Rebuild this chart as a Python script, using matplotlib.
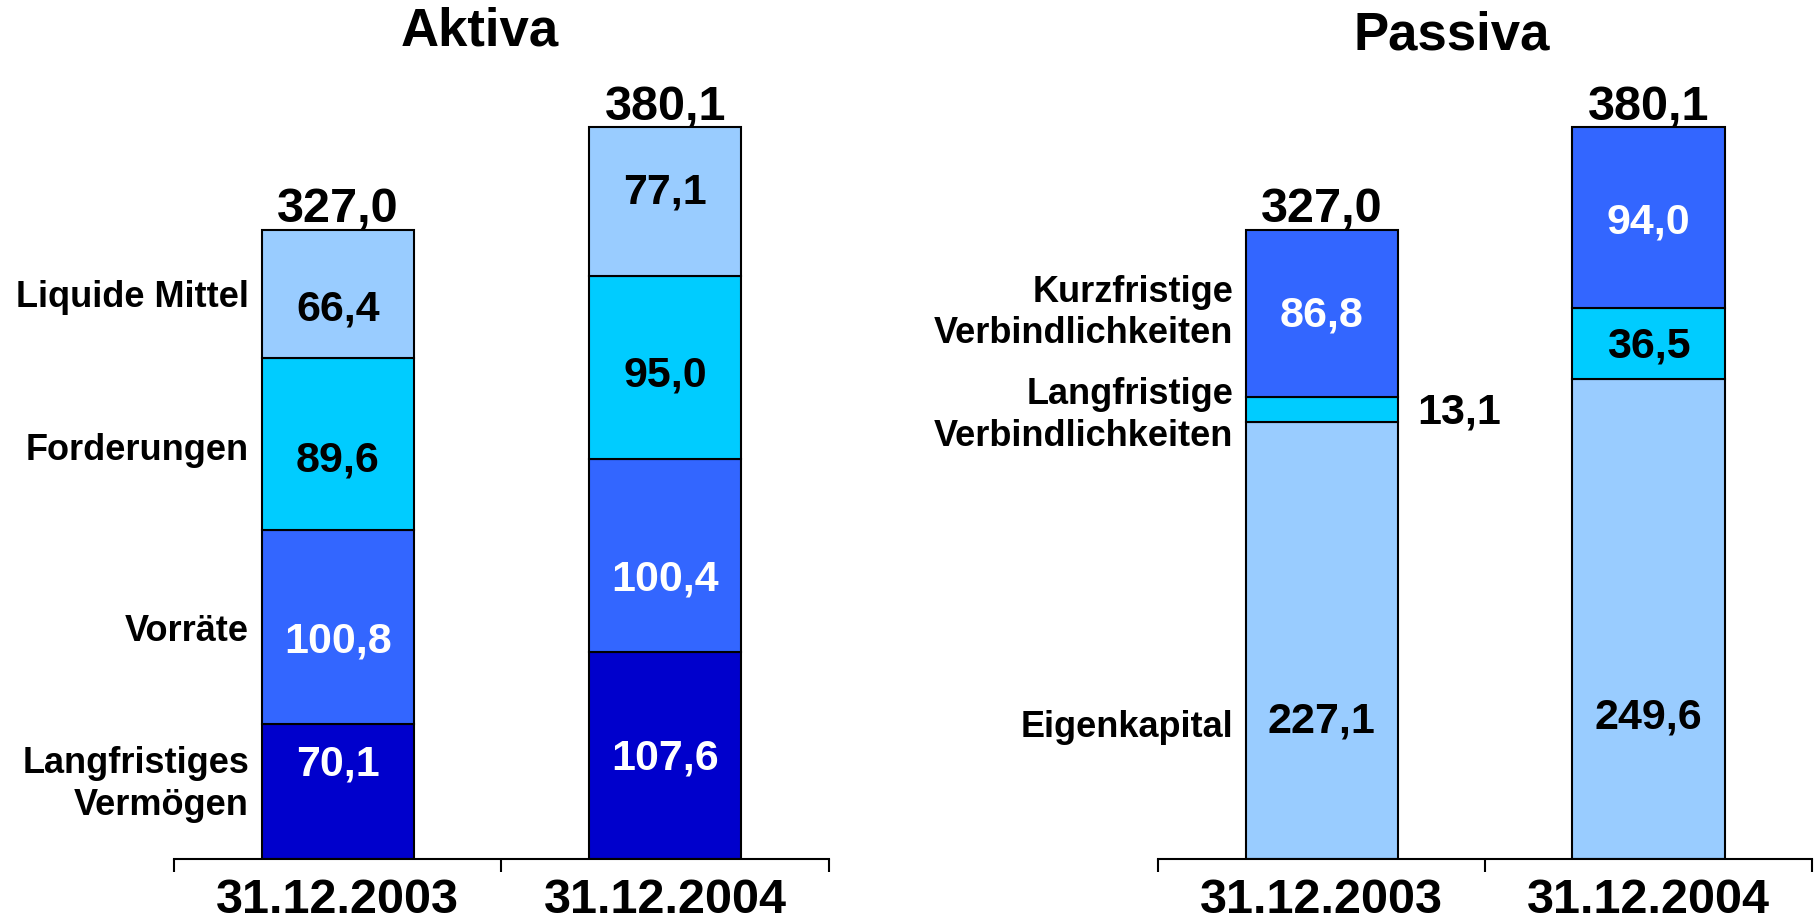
import matplotlib
matplotlib.use("Agg")
import matplotlib.pyplot as plt

# data
dates = ["31.12.2003", "31.12.2004"]

aktiva_labels = ["Langfristiges\nVermögen", "Vorräte", "Forderungen", "Liquide Mittel"]
aktiva_2003 = [70.1, 100.8, 89.6, 66.4]
aktiva_2004 = [107.6, 100.4, 95.0, 77.1]
aktiva_totals = ["327,0", "380,1"]

passiva_labels = ["Eigenkapital", "Langfristige\nVerbindlichkeiten", "Kurzfristige\nVerbindlichkeiten"]
passiva_2003 = [227.1, 13.1, 86.8]
passiva_2004 = [249.6, 36.5, 94.0]
passiva_totals = ["327,0", "380,1"]

aktiva_colors = ["#0000CC", "#3366FF", "#00CCFF", "#99CCFF"]
aktiva_text = ["white", "white", "black", "black"]
passiva_colors = ["#99CCFF", "#00CCFF", "#3366FF"]
passiva_text = ["black", "black", "white"]

plt.rcParams['font.family'] = ['Liberation Sans', 'DejaVu Sans']
plt.rcParams['font.weight'] = 'bold'


def fmt(v):
    return f"{v:.1f}".replace(".", ",")


def draw_stack(ax, series, colors, txt_colors, labels, totals, value_pos, label_pos, outside=()):
    width = 0.465
    for i, vals in enumerate(series):
        bottom = 0
        for j, v in enumerate(vals):
            ax.bar(i, v, width, bottom=bottom, color=colors[j], edgecolor="black", linewidth=1.5, zorder=2)
            y = bottom + v * value_pos[i][j]
            if (i, j) in outside:
                ax.annotate(fmt(v), (i + width / 2, y), xytext=(14, -2), textcoords="offset points",
                            ha="left", va="center", fontsize=31, color="black")
            else:
                ax.annotate(fmt(v), (i, y), xytext=(0, -2), textcoords="offset points",
                            ha="center", va="center", fontsize=31, color=txt_colors[j])
            if i == 0:
                ax.annotate(labels[j], (i - width / 2, bottom + v * label_pos[j]), xytext=(-9, 0),
                            textcoords="offset points", ha="right", va="center",
                            fontsize=26, linespacing=1.25)
            bottom += v
        ax.annotate(totals[i], (i, bottom), xytext=(0, 5), textcoords="offset points",
                    ha="center", va="baseline", fontsize=35)

    ax.set_xlim(-0.5, 1.5)
    ax.set_ylim(0, 400)
    for s in ["left", "right", "top"]:
        ax.spines[s].set_visible(False)
    ax.spines["bottom"].set_linewidth(1.5)
    ax.set_yticks([])
    ax.set_xticks([0, 1])
    ax.set_xticklabels(dates, fontsize=35)
    ax.tick_params(axis="x", which="major", length=0, pad=14)
    ax.set_xticks([-0.5, 0.5, 1.5], minor=True)
    ax.tick_params(axis="x", which="minor", length=9, width=1.5, direction="out")


fig = plt.figure(figsize=(18.18, 9.21), dpi=100)
ax1 = fig.add_axes([0.0957, 0.0673, 0.3603, 0.836])
ax2 = fig.add_axes([0.637, 0.0673, 0.3597, 0.836])

aktiva_vpos = [[0.72, 0.44, 0.42, 0.40], [0.5, 0.39, 0.47, 0.58]]
aktiva_lpos = [0.55, 0.475, 0.46, 0.47]
passiva_vpos = [[0.32, 0.5, 0.5], [0.30, 0.49, 0.49]]
passiva_lpos = [0.30, 0.24, 0.5]

draw_stack(ax1, [aktiva_2003, aktiva_2004], aktiva_colors, aktiva_text, aktiva_labels, aktiva_totals,
           aktiva_vpos, aktiva_lpos)
draw_stack(ax2, [passiva_2003, passiva_2004], passiva_colors, passiva_text, passiva_labels, passiva_totals,
           passiva_vpos, passiva_lpos, outside=[(0, 1)])

fig.text(480 / 1818, 1 - 32 / 921, "Aktiva", ha="center", va="center", fontsize=38)
fig.text(1452 / 1818, 1 - 35 / 921, "Passiva", ha="center", va="center", fontsize=38)

fig.savefig("out.png", dpi=100)
